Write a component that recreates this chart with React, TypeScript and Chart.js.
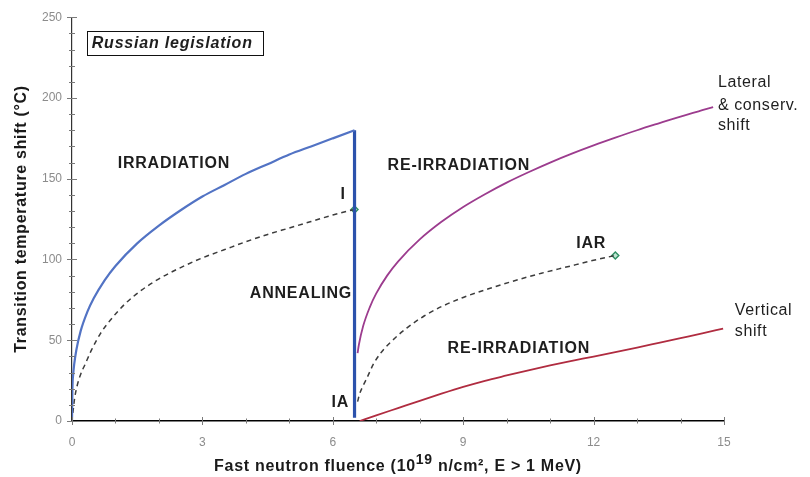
import React, { useEffect, useRef } from "react";
import { Chart, registerables } from "chart.js";

Chart.register(...registerables);

// Initial irradiation (I) curve
const irradiationX = [0, 0.01, 0.03, 0.05, 0.1, 0.2, 0.35, 0.5, 0.75, 1.0, 1.5, 2.0, 2.5, 3.0, 3.5, 4.0, 4.5, 5.0, 5.5, 6.0, 6.5];
const irradiationY = [0, 20, 29.6, 35, 44, 55.8, 67.4, 76, 87.1, 96, 110, 121, 130.5, 139, 146, 153, 159, 165, 170, 175, 180];

// Annealing: drop at constant fluence
const annealingX = [6.5, 6.5];
const annealingY = [180, 2];

// Re-irradiation with lateral & conservative shift
const lateralX = [6.57, 6.6, 6.7, 6.85, 7.0, 7.25, 7.5, 8.0, 8.5, 9.0, 9.5, 10.0, 10.5, 11.0, 11.5, 12.0, 12.5, 13.0, 13.5, 14.0, 14.5, 14.75];
const lateralY = [42, 47.2, 58.9, 70.4, 79, 90, 98.7, 112.4, 123.3, 132.5, 140.4, 147.6, 154, 160, 165.5, 170.6, 175.4, 180, 184.3, 188.5, 192.4, 194.3];

// Re-irradiation with vertical shift
const verticalX = [6.62, 7.0, 7.5, 8.0, 8.5, 9.0, 9.5, 10.0, 10.5, 11.0, 11.5, 12.0, 12.5, 13.0, 13.5, 14.0, 14.5, 14.98];
const verticalY = [0, 3.5, 8.0, 12.5, 16.9, 21.1, 24.9, 28.2, 31.4, 34.4, 37.2, 39.9, 42.7, 45.5, 48.4, 51.3, 54.2, 57.2];

// Embrittlement actually reached (dashed): I and IAR
const iDashX = [0.02, 0.06, 0.12, 0.2, 0.3, 0.45, 0.65, 0.9, 1.2, 1.6, 2.0, 2.5, 3.0, 3.5, 4.0, 4.5, 5.0, 5.5, 6.0, 6.5];
const iDashY = [5, 14, 22, 29, 35, 44, 54, 63, 72, 81, 88, 95, 101, 106, 111, 115.5, 119.5, 123.5, 127.5, 131];
const iarDashX = [6.57, 6.62, 6.7, 6.8, 6.93, 7.1, 7.3, 7.7, 8.1, 8.5, 9.0, 9.6, 10.2, 10.8, 11.4, 12.0, 12.5];
const iarDashY = [12, 17, 22, 27.5, 35, 42, 48, 57.5, 65, 70.8, 76.5, 82, 87, 91.5, 95.5, 99.5, 102.5];

// State markers (I, IAR)
const markerX = [6.5, 12.5];
const markerY = [131, 102.5];

// Axis ranges and tick steps
const xMin = 0, xMax = 15, xMajor = 3, xMinor = 1;
const yMin = 0, yMax = 250, yMajor = 50, yMinor = 10;

// Region labels (bold)
const noteText = ["IRRADIATION", "RE-IRRADIATION", "I", "ANNEALING", "IAR", "RE-IRRADIATION", "IA"];
const noteX = [1.05, 7.26, 6.18, 4.09, 11.6, 8.64, 5.97];
const noteY = [159.3, 158, 140, 79, 109.9, 45, 11.7];

// Curve end labels (regular)
const sideText = ["Lateral", "& conserv.", "shift", "Vertical", "shift"];
const sideX = [14.86, 14.86, 14.86, 15.25, 15.25];
const sideY = [209.4, 195, 182.7, 68.5, 55.1];

const boxTitle = "Russian legislation";
const xTitleParts = ["Fast neutron fluence (10", "19", " n/cm², E > 1 MeV)"];
const yTitle = "Transition temperature shift (°C)";

const FONT = '"Liberation Sans", Arial, sans-serif';

const pts = (xs: number[], ys: number[]) => xs.map((x, i) => ({ x, y: ys[i] }));

const decorPlugin = {
  id: "decor",
  afterDraw(chart: any) {
    const { ctx, scales, chartArea } = chart;
    const xs = scales.x;
    const ys = scales.y;
    ctx.save();

    // tick marks crossing the axes
    ctx.strokeStyle = "#7a7a7a";
    ctx.lineWidth = 1;
    const yAxisPx = xs.getPixelForValue(xMin);
    for (let v = yMin; v <= yMax + 1e-9; v += yMinor) {
      const py = Math.round(ys.getPixelForValue(v)) + 0.5;
      const major = Math.abs(v % yMajor) < 1e-9;
      const len = major ? 5 : 3;
      ctx.beginPath();
      ctx.moveTo(yAxisPx - len, py);
      ctx.lineTo(yAxisPx + len, py);
      ctx.stroke();
    }
    const xAxisPx = ys.getPixelForValue(yMin);
    for (let v = xMin; v <= xMax + 1e-9; v += xMinor) {
      const px = Math.round(xs.getPixelForValue(v)) + 0.5;
      const major = Math.abs(v % xMajor) < 1e-9;
      const len = major ? 4 : 2.5;
      ctx.beginPath();
      ctx.moveTo(px, xAxisPx - len);
      ctx.lineTo(px, xAxisPx + len);
      ctx.stroke();
    }

    const letter = (s: string) => {
      try { (ctx as any).letterSpacing = s; } catch (e) { /* unsupported */ }
    };

    // region labels
    ctx.fillStyle = "#1e1e1e";
    ctx.textBaseline = "middle";
    ctx.textAlign = "left";
    ctx.font = `bold 16px ${FONT}`;
    letter("0.8px");
    noteText.forEach((t, i) => {
      ctx.fillText(t, xs.getPixelForValue(noteX[i]), ys.getPixelForValue(noteY[i]));
    });

    // curve end labels
    ctx.font = `16px ${FONT}`;
    letter("0.6px");
    sideText.forEach((t, i) => {
      ctx.fillText(t, xs.getPixelForValue(sideX[i]), ys.getPixelForValue(sideY[i]));
    });

    // boxed title
    const bx0 = xs.getPixelForValue(0.35);
    const bx1 = xs.getPixelForValue(4.39);
    const by0 = ys.getPixelForValue(241.4);
    const by1 = ys.getPixelForValue(226.5);
    ctx.strokeStyle = "#111";
    ctx.lineWidth = 1;
    ctx.strokeRect(Math.round(bx0) + 0.5, Math.round(by0) + 0.5, Math.round(bx1 - bx0), Math.round(by1 - by0));
    ctx.font = `italic bold 16px ${FONT}`;
    letter("0.8px");
    ctx.fillText(boxTitle, bx0 + 4.5, (by0 + by1) / 2 + 0.5);

    // axis titles
    ctx.fillStyle = "#1a1a1a";
    letter("0.7px");
    const main = `bold 16px ${FONT}`;
    const sup = `bold 14px ${FONT}`;
    const cx = (chartArea.left + chartArea.right) / 2;
    ctx.font = main;
    const w0 = ctx.measureText(xTitleParts[0]).width;
    const w2 = ctx.measureText(xTitleParts[2]).width;
    ctx.font = sup;
    const w1 = ctx.measureText(xTitleParts[1]).width;
    let tx = cx - (w0 + w1 + w2) / 2;
    const ty = 467;
    ctx.font = main;
    ctx.fillText(xTitleParts[0], tx, ty);
    tx += w0;
    ctx.font = sup;
    ctx.fillText(xTitleParts[1], tx, ty - 7);
    tx += w1;
    ctx.font = main;
    ctx.fillText(xTitleParts[2], tx, ty);

    ctx.save();
    ctx.translate(22, 219);
    ctx.rotate(-Math.PI / 2);
    ctx.textAlign = "center";
    ctx.font = main;
    ctx.fillText(yTitle, 0, 0);
    ctx.restore();

    ctx.restore();
  },
};

export default function App() {
  const ref = useRef<HTMLCanvasElement | null>(null);

  useEffect(() => {
    if (!ref.current) return;
    const chart = new Chart(ref.current, {
      type: "line",
      data: {
        datasets: [
          {
            label: "Irradiation",
            data: pts(irradiationX, irradiationY),
            borderColor: "#5273c4",
            borderWidth: 2.2,
            pointRadius: 0,
            cubicInterpolationMode: "monotone",
          },
          {
            label: "Annealing",
            data: pts(annealingX, annealingY),
            borderColor: "#2c52ac",
            borderWidth: 3.2,
            pointRadius: 0,
            tension: 0,
          },
          {
            label: "Re-irradiation (lateral)",
            data: pts(lateralX, lateralY),
            borderColor: "#9c3c8e",
            borderWidth: 1.8,
            pointRadius: 0,
            cubicInterpolationMode: "monotone",
          },
          {
            label: "Re-irradiation (vertical)",
            data: pts(verticalX, verticalY),
            borderColor: "#b02c40",
            borderWidth: 1.8,
            pointRadius: 0,
            cubicInterpolationMode: "monotone",
          },
          {
            label: "I",
            data: pts(iDashX, iDashY),
            borderColor: "#3c3c3c",
            borderWidth: 1.5,
            borderDash: [5, 4],
            pointRadius: 0,
            cubicInterpolationMode: "monotone",
          },
          {
            label: "IAR",
            data: pts(iarDashX, iarDashY),
            borderColor: "#3c3c3c",
            borderWidth: 1.5,
            borderDash: [5, 4],
            pointRadius: 0,
            cubicInterpolationMode: "monotone",
          },
          {
            label: "States",
            data: pts(markerX, markerY),
            showLine: false,
            pointStyle: "rectRot",
            pointRadius: 3.5,
            borderWidth: 1.4,
            borderColor: "#2f8f63",
            backgroundColor: "#bfe5d2",
          },
        ],
      },
      options: {
        responsive: false,
        animation: false,
        devicePixelRatio: 1,
        layout: { padding: { top: 16, right: 86, bottom: 0, left: 0 } },
        plugins: {
          legend: { display: false },
          tooltip: { enabled: false },
        },
        scales: {
          x: {
            type: "linear",
            min: xMin,
            max: xMax,
            grid: { display: false, drawTicks: false },
            border: { display: true, color: "#000", width: 1.5 },
            ticks: {
              stepSize: xMajor,
              color: "#8c8c8c",
              font: { family: FONT, size: 12 },
              padding: 14,
            },
            afterFit: (s: any) => {
              s.height = 56;
            },
          },
          y: {
            type: "linear",
            min: yMin,
            max: yMax,
            grid: { display: false, drawTicks: false },
            border: { display: true, color: "#333", width: 1.2 },
            ticks: {
              stepSize: yMajor,
              color: "#8c8c8c",
              font: { family: FONT, size: 12 },
              padding: 10,
            },
            afterFit: (s: any) => {
              s.width = 72;
            },
          },
        },
      },
      plugins: [decorPlugin],
    });
    return () => chart.destroy();
  }, []);

  return (
    <div style={{ position: "absolute", left: 0, top: 0, width: 810, height: 477, background: "#fff" }}>
      <canvas ref={ref} width={810} height={477} style={{ display: "block" }} />
    </div>
  );
}
